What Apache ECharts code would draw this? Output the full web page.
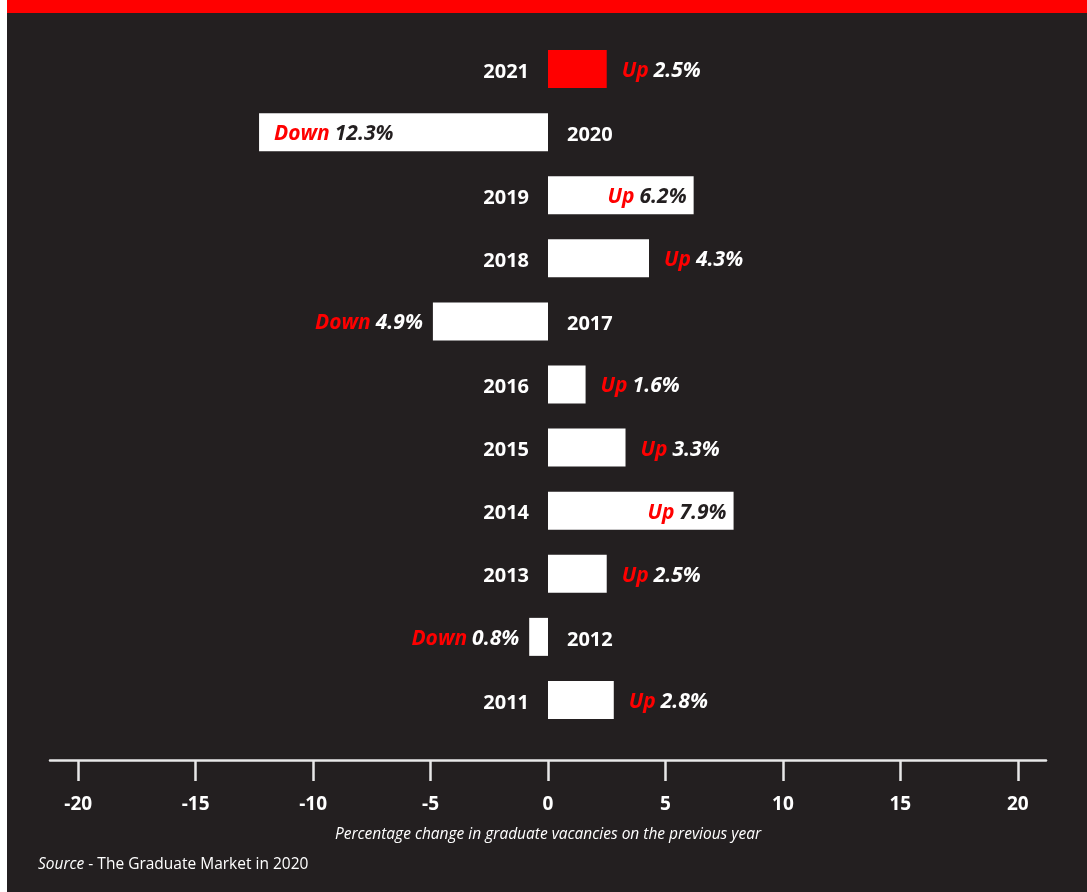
<!DOCTYPE html>
<html>
<head>
<meta charset="utf-8">
<script src="https://cdn.jsdelivr.net/npm/echarts@6/dist/echarts.min.js"></script>
<style>
  html, body { margin: 0; padding: 0; background: #ffffff; }
  #chart { position: absolute; left: 7px; top: 0; width: 1080px; height: 892px; background: #231f20; }
</style>
</head>
<body>
<div id="chart"></div>
<script>
const years = ['2021', '2020', '2019', '2018', '2017', '2016', '2015', '2014', '2013', '2012', '2011'];
const changes = [2.5, -12.3, 6.2, 4.3, -4.9, 1.6, 3.3, 7.9, 2.5, -0.8, 2.8];
const tickValues = [-20, -15, -10, -5, 0, 5, 10, 15, 20];
const highlightYear = '2021';
const axisTitle = 'Percentage change in graduate vacancies on the previous year';
const sourceLabel = 'Source';
const sourceText = ' - The Graduate Market in 2020';

const FONT = '"Open Sans", "Noto Sans", sans-serif';
const BG = '#231f20';
const RED = '#ff0000';

const chart = echarts.init(document.getElementById('chart'), null, { renderer: 'canvas' });

const barData = changes.map((v, i) => {
  const inside = Math.abs(v) > 6;
  let position, distance;
  if (v > 0) { position = inside ? 'insideRight' : 'right'; distance = inside ? 7 : 15; }
  else { position = inside ? 'insideLeft' : 'left'; distance = inside ? 15 : 10; }
  return {
    value: v,
    itemStyle: { color: years[i] === highlightYear ? RED : '#ffffff' },
    label: {
      show: true,
      position: position,
      distance: distance,
      offset: [0, 2],
      formatter: (p) => '{up|' + (p.value > 0 ? 'Up' : 'Down') + '}{sp| }{' + (inside ? 'vd' : 'v') + '|' + Math.abs(p.value).toFixed(1) + '%}'
    }
  };
});

const yearData = years.map((y, i) => ({
  value: [0, y],
  label: {
    show: true,
    position: changes[i] >= 0 ? 'left' : 'right',
    distance: 19,
    offset: [0, 3],
    formatter: y,
    color: '#ffffff',
    opacity: 1,
    fontFamily: FONT,
    fontWeight: 'bold',
    fontSize: 20
  }
}));

const option = {
  animation: false,
  backgroundColor: BG,
  grid: { left: 43, right: 41, top: 37.5, bottom: 892 - 731.5 },
  xAxis: {
    type: 'value',
    min: -21.2,
    max: 21.2,
    offset: 28.5,
    splitLine: { show: false },
    axisLine: { show: true, lineStyle: { color: '#e8e8e8', width: 2.5 } },
    axisTick: { show: true, customValues: tickValues, length: 21, inside: false, lineStyle: { color: '#e8e8e8', width: 2.5 } },
    axisLabel: {
      customValues: tickValues,
      color: '#ffffff',
      fontFamily: FONT,
      fontWeight: 'bold',
      fontSize: 19,
      margin: 35
    },
    name: axisTitle,
    nameLocation: 'middle',
    nameGap: 67,
    nameTextStyle: { color: '#ffffff', fontFamily: FONT, fontStyle: 'italic', fontSize: 15.5 }
  },
  yAxis: {
    type: 'category',
    data: years,
    inverse: true,
    axisLine: { show: false },
    axisTick: { show: false },
    axisLabel: { show: false },
    splitLine: { show: false }
  },
  series: [
    {
      type: 'bar',
      data: barData,
      barWidth: 38,
      label: {
        fontFamily: FONT,
        rich: {
          up: { color: RED, fontStyle: 'italic', fontWeight: 'bold', fontSize: 21, fontFamily: FONT },
          sp: { fontSize: 21, width: 5 },
          v: { color: '#ffffff', fontStyle: 'italic', fontWeight: 'bold', fontSize: 21, fontFamily: FONT },
          vd: { color: BG, fontStyle: 'italic', fontWeight: 'bold', fontSize: 21, fontFamily: FONT }
        }
      },
      z: 2
    },
    {
      type: 'scatter',
      data: yearData,
      symbolSize: 0,
      itemStyle: { color: BG, opacity: 1 },
      silent: true,
      z: 3
    }
  ],
  graphic: [
    {
      type: 'rect',
      left: 0,
      top: 0,
      shape: { width: 1080, height: 13 },
      style: { fill: RED },
      z: 10
    },
    {
      type: 'text',
      left: 31,
      top: 857,
      style: {
        text: '{i|' + sourceLabel + '}{n|' + sourceText + '}',
        rich: {
          i: { fill: '#ffffff', fontStyle: 'italic', fontSize: 15.5, fontFamily: FONT },
          n: { fill: '#ffffff', fontSize: 15.5, fontFamily: FONT }
        }
      },
      z: 10
    }
  ]
};

chart.setOption(option);
</script>
</body>
</html>
